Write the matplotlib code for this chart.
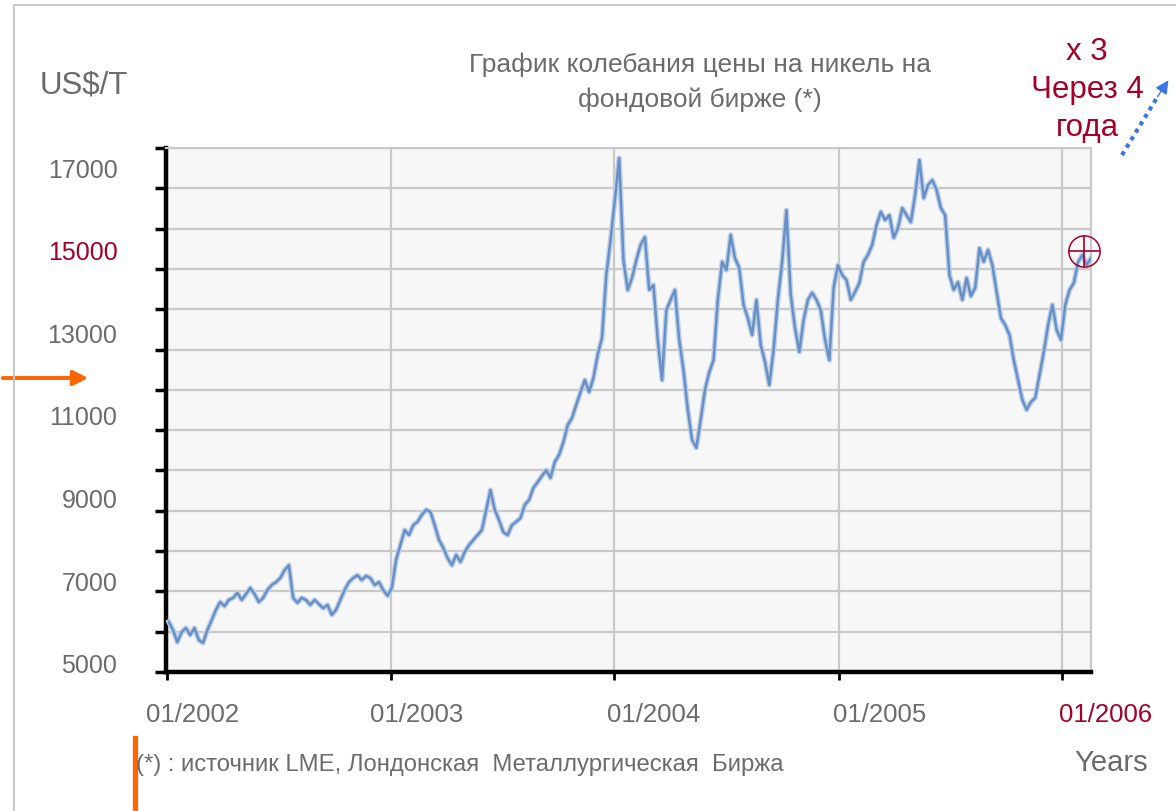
import matplotlib
matplotlib.use('Agg')
import matplotlib.pyplot as plt
import matplotlib.dates as mdates
import matplotlib.transforms as mtransforms
from matplotlib.ticker import FixedLocator
from matplotlib.lines import Line2D
import numpy as np
import pandas as pd

plt.rcParams['font.family'] = ['Liberation Sans', 'DejaVu Sans']

# ---------------- data ----------------
title_lines = ["График колебания цены на никель на", "фондовой бирже (*)"]
y_unit = "US$/T"
x_unit = "Years"
footnote = "(*) : источник LME, Лондонская  Металлургическая  Биржа"
annotation_lines = ["x 3", "Через 4", "года"]

y_tick_values = [5000, 7000, 9000, 11000, 13000, 15000, 17000]
y_tick_labels = ["5000", "7000", "9000", "11000", "13000", "15000", "17000"]
y_highlight = 15000

x_tick_dates = ["2002-01-01", "2003-01-01", "2004-01-01", "2005-01-01", "2006-01-01"]
x_tick_labels = ["01/2002", "01/2003", "01/2004", "01/2005", "01/2006"]
x_highlight = "01/2006"

first_week = "2002-01-04"
prices = [
    6020, 5820, 5530, 5770, 5870, 5700, 5870, 5580, 5510, 5820,
    6060, 6310, 6500, 6400, 6550, 6600, 6720, 6550, 6690, 6840,
    6690, 6500, 6600, 6790, 6910, 6980, 7080, 7270, 7390, 6600,
    6480, 6600, 6550, 6430, 6550, 6450, 6350, 6430, 6190, 6310,
    6550, 6790, 6980, 7080, 7150, 7030, 7130, 7080, 6910, 6980,
    6790, 6650, 6840, 7520, 7880, 8240, 8120, 8360, 8440, 8610,
    8730, 8680, 8360, 8000, 7810, 7560, 7390, 7640, 7470, 7710,
    7880, 8000, 8120, 8240, 8730, 9210, 8730, 8480, 8190, 8120,
    8360, 8440, 8530, 8850, 8970, 9260, 9400, 9550, 9690, 9500,
    9890, 10060, 10370, 10780, 10950, 11270, 11580, 11870, 11580, 11920,
    12480, 12890, 14410, 15260, 16230, 17240, 14770, 14050, 14340, 14770,
    15140, 15330, 14050, 14170, 12840, 11870, 13560, 13810, 14050, 12840,
    12110, 11150, 10420, 10230, 10900, 11630, 12060, 12350, 13810, 14730,
    14530, 15380, 14820, 14580, 13690, 13370, 12960, 13810, 12720, 12310,
    11750, 12600, 13810, 14730, 15980, 13930, 13130, 12550, 13320, 13810,
    13980, 13810, 13560, 12840, 12350, 14100, 14650, 14410, 14290, 13810,
    14000, 14220, 14730, 14900, 15140, 15620, 15940, 15740, 15860, 15310,
    15550, 16030, 15860, 15690, 16350, 17190, 16270, 16590, 16710, 16470,
    16030, 15860, 14410, 14050, 14240, 13810, 14340, 13900, 14100, 15060,
    14730, 15020, 14650, 14000, 13370, 13200, 12960, 12350, 11870, 11390,
    11150, 11340, 11440, 11990, 12550, 13200, 13690, 13080, 12840, 13690,
    14050, 14220, 14730, 14900, 14650, 14820,
]
marker_date = "2006-02-06"
marker_value = 15000

# ---------------- style ----------------
W, H = 1176, 811
GRAY_TXT = '#6b6b6b'
RED = '#a5002a'
ORANGE = '#ff6600'
BLUE = '#3a73e6'
GRID = '#c9c9c9'

fig = plt.figure(figsize=(W / 100, H / 100), dpi=100)


def fx(x):
    return x / W


def fy(y):
    return 1 - y / H


ax = fig.add_axes([fx(166), fy(672), fx(1091) - fx(166), fy(148) - fy(672)])
ax.set_facecolor('#f7f7f7')

dates = pd.date_range(first_week, periods=len(prices), freq='7D')
ax.plot(dates, prices, color='#bcd0ea', lw=3.8, solid_joinstyle='round', zorder=3)
ax.plot(dates, prices, color='#6890c4', lw=1.8, solid_joinstyle='round', zorder=4)

ax.set_xlim(pd.Timestamp('2001-12-30 12:00'), pd.Timestamp('2006-02-17'))
ylo, yhi = 4806, 17484
ax.set_ylim(ylo, yhi)

# y axis: labels on major ticks, gridlines/marks on minor ticks
ax.set_yticks(y_tick_values)
ax.set_yticklabels(y_tick_labels)
ax.yaxis.set_minor_locator(FixedLocator(np.linspace(ylo, yhi, 14)))
ax.tick_params(axis='y', which='major', length=0, pad=35, labelsize=18, labelcolor=GRAY_TXT)
ax.tick_params(axis='y', which='minor', length=8, width=2.5, color='black', direction='out')
ax.grid(axis='y', which='minor', color=GRID, lw=1.6)
for lab, v in zip(ax.get_yticklabels(), y_tick_values):
    if v == y_highlight:
        lab.set_color(RED)

# x axis
xt = [pd.Timestamp(d) for d in x_tick_dates]
ax.set_xticks(xt)
ax.set_xticklabels(x_tick_labels)
ax.tick_params(axis='x', which='major', length=6, width=2, color='black', direction='out',
               pad=16, labelsize=18.5, labelcolor=GRAY_TXT)
ax.grid(axis='x', which='major', color=GRID, lw=1.6)
ax.set_axisbelow(True)
x_offsets_px = [26, 26, 39, 41, 43]
for lab, text, dx in zip(ax.get_xticklabels(), x_tick_labels, x_offsets_px):
    lab.set_transform(lab.get_transform() +
                      mtransforms.ScaledTranslation(dx / 100, 0, fig.dpi_scale_trans))
    if text == x_highlight:
        lab.set_color(RED)

for s in ['left', 'bottom']:
    ax.spines[s].set_color('black')
    ax.spines[s].set_linewidth(3.2)
for s in ['top', 'right']:
    ax.spines[s].set_color(GRID)
    ax.spines[s].set_linewidth(1.6)

# crosshair marker
ax.plot(pd.Timestamp(marker_date), marker_value, marker='o', ms=22.5, mfc='none',
        mec=RED, mew=1.1, clip_on=False, zorder=6)
ax.plot(pd.Timestamp(marker_date), marker_value, marker='+', ms=22.5,
        mec=RED, mew=1.2, clip_on=False, zorder=6)

# ---------------- texts ----------------
fig.text(fx(40), fy(85), y_unit, fontsize=22.5, color=GRAY_TXT, ha='left', va='center')
fig.text(fx(700), fy(65), title_lines[0], fontsize=19, color=GRAY_TXT, ha='center', va='center')
fig.text(fx(700), fy(100), title_lines[1], fontsize=19, color=GRAY_TXT, ha='center', va='center')
for line, yy in zip(annotation_lines, [52, 90, 128]):
    fig.text(fx(1087), fy(yy), line, fontsize=22.5, color=RED, ha='center', va='center')
fig.text(fx(136), fy(765), footnote, fontsize=17.2, color=GRAY_TXT, ha='left', va='center')
fig.text(fx(1148), fy(763), x_unit, fontsize=21, color=GRAY_TXT, ha='right', va='center')

# ---------------- decorations ----------------
fig.add_artist(Line2D([fx(14), fx(14)], [fy(5), 0], color='#c8c8c8', lw=1.4))
fig.add_artist(Line2D([fx(14), 1], [fy(5), fy(5)], color='#c8c8c8', lw=1.4))
fig.add_artist(Line2D([fx(135), fx(135)], [fy(738), 0], color=ORANGE, lw=3.8))

fig.add_artist(matplotlib.patches.FancyArrowPatch(
    (fx(0), fy(378)), (fx(91), fy(378)), transform=fig.transFigure,
    arrowstyle='-|>', mutation_scale=22, color=ORANGE, lw=2.8))

fig.add_artist(Line2D([fx(1122), fx(1158)], [fy(155), fy(96)], color=BLUE, lw=3.0,
                      linestyle=(0, (1, 1.1))))
fig.add_artist(matplotlib.patches.FancyArrowPatch(
    (fx(1156), fy(99)), (fx(1170), fy(78)), transform=fig.transFigure,
    arrowstyle='-|>', mutation_scale=20, color=BLUE, lw=1.0))

fig.savefig('out.png', dpi=100, facecolor='white')
